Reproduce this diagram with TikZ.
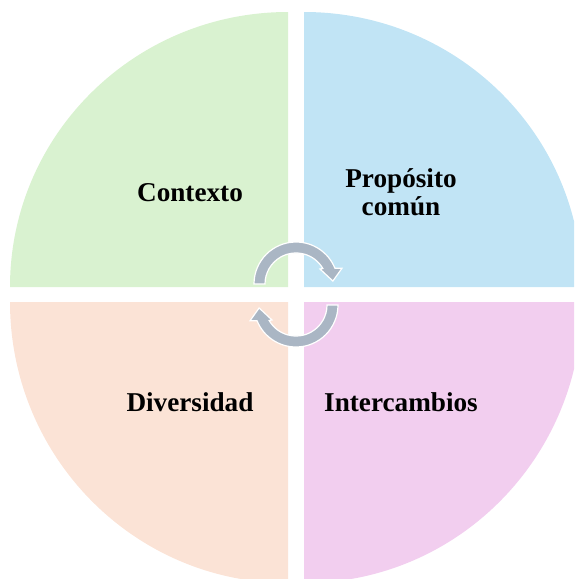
\documentclass[tikz,border=0pt]{standalone}
\usepackage{fontspec}
\setmainfont{Liberation Serif}
\usetikzlibrary{calc}
\definecolor{ctxgreen}{RGB}{217,242,208}
\definecolor{propblue}{RGB}{193,228,245}
\definecolor{divpeach}{RGB}{251,227,214}
\definecolor{interpink}{RGB}{242,206,239}
\definecolor{arrowgray}{RGB}{170,182,196}
\tikzset{
  label text/.style={font=\fontsize{27.2}{28}\selectfont\bfseries, align=center, anchor=base, inner sep=0pt},
  cycle arrow/.style={fill=arrowgray, draw=white, line width=1.2pt, line join=miter}
}
\begin{document}
\begin{tikzpicture}[x=1pt,y=1pt]
     \useasboundingbox (0,0) rectangle (574,-579);
     \clip (0,0) rectangle (574,-579);
     %\draw[step=10,very thin,color=blue!20] (0,0) grid (574,-579);
     \coordinate (TL) at (288,-287);
     \coordinate (TR) at (304,-287);
     \coordinate (BL) at (288,-302);
     \coordinate (BR) at (304,-302);
     \coordinate (Ot) at (296,-284);
     \coordinate (Ob) at (296,-305);

     % four quarters
     \fill[ctxgreen] (TL) -- ($(TL)+(0,275)$) arc[start angle=90, end angle=180, x radius=278, y radius=275] -- cycle;
     \fill[propblue] (TR) -- ($(TR)+(278,0)$) arc[start angle=0, end angle=90, x radius=278, y radius=275] -- cycle;
     \fill[divpeach] (BL) -- ($(BL)+(-278,0)$) arc[start angle=180, end angle=270, x radius=278, y radius=281] -- cycle;
     \fill[interpink] (BR) -- ($(BR)+(0,-281)$) arc[start angle=270, end angle=360, x radius=278, y radius=281] -- cycle;

     % labels (base of a two-line label is its last line)
     \node[label text] (ctx) at (190,-201) {Contexto};
     \node[label text] (prop) at (401,-215) {Propósito\\común};
     \node[label text] (div) at (190,-411.5) {Diversidad};
     \node[label text] (inter) at (401,-411.5) {Intercambios};

     % circular arrows
     \foreach \ctr/\rot in {Ot/0,Ob/180}
       \draw[cycle arrow] ($(\ctr)+(180+\rot:42)$) arc[start angle=180+\rot, end angle=22+\rot, radius=42]
          -- ($(\ctr)+(19+\rot:48.7)$) -- ($(\ctr)+(4.6+\rot:37)$) -- ($(\ctr)+(32+\rot:28.3)$)
          -- ($(\ctr)+(30+\rot:31)$) arc[start angle=30+\rot, end angle=180+\rot, radius=31] -- cycle;

  \end{tikzpicture}
\end{document}
